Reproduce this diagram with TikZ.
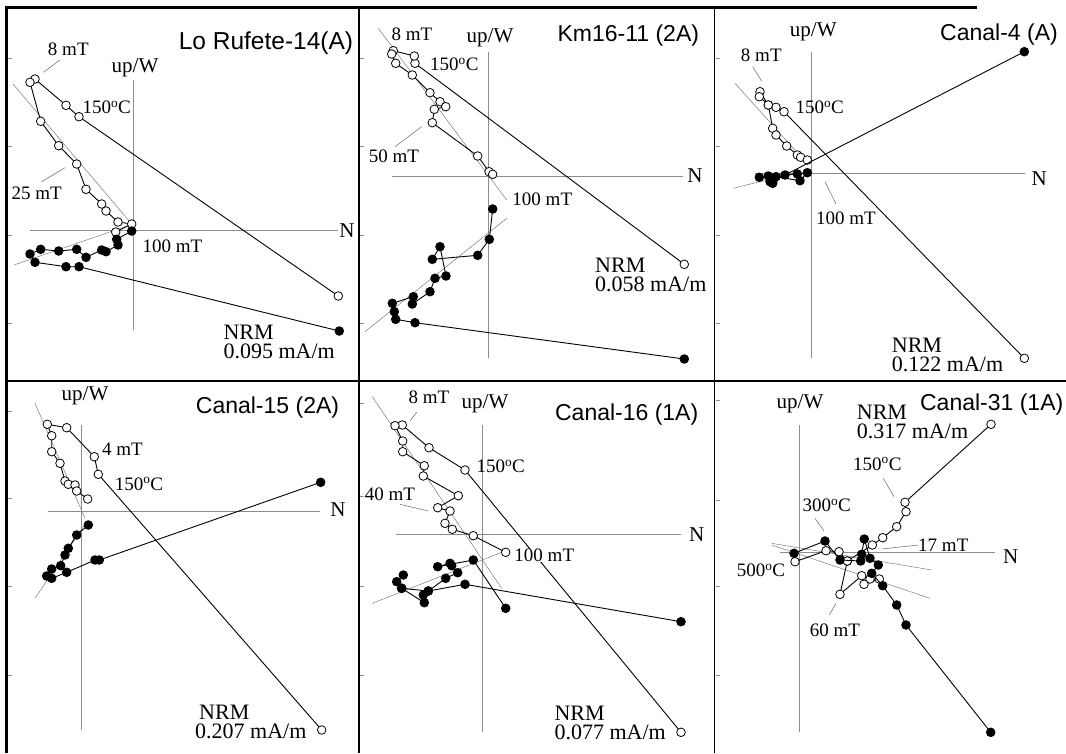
\documentclass[tikz,border=0pt]{standalone}
\usepackage{fontspec}
\setmainfont{Liberation Serif}
\newfontfamily\ttlfont{Liberation Sans}
\newcommand\myDegC{\textsuperscript{o}C}
\begin{document}
\begin{tikzpicture}[x=1pt,y=-1pt,
 dl/.style={line width=0.9pt,black,line join=round},
 opn/.style={dl,mark=*,mark size=4.3pt,mark options={fill=white,draw=black,line width=0.8pt}},
 fil/.style={dl,mark=*,mark size=4.3pt,mark options={fill=black,draw=black}},
 ax/.style={draw=black!45,line width=0.8pt},
 fitl/.style={draw=black!55,line width=0.45pt},
 ld/.style={draw=black!60,line width=0.5pt},
 tk/.style={draw=black!45,line width=0.6pt},
 ttl/.style={font=\ttlfont\fontsize{23}{26}\selectfont,anchor=base,inner sep=0pt},
 lb/.style={font=\fontsize{19}{21}\selectfont,anchor=base,inner sep=0.5pt},
 axl/.style={font=\fontsize{21}{23}\selectfont,anchor=base,inner sep=0pt},
 nrm/.style={font=\fontsize{22}{19}\selectfont,align=left,anchor=base west,inner sep=0pt},
]
\fill[white] (0,0) rectangle (1066,753);
\useasboundingbox (0,0) rectangle (1066,753);

% ---------- frame ----------
\draw[black,line width=3pt] (6.5,753) -- (6.5,7.5) -- (977,7.5);
\draw[black,line width=1.8pt] (359,7.5) -- (359,753);
\draw[black,line width=1.8pt] (714.5,7.5) -- (714.5,753);
\draw[black,line width=1.8pt] (6.5,381) -- (1066,381);

% ---------- ticks ----------
\foreach \y in {58.3,146.7,235,323.3} {
  \draw[tk] (8,\y) -- (12,\y);
  \draw[tk] (360,\y) -- (364,\y);
  \draw[tk] (716,\y) -- (720,\y);
}
\foreach \y in {411.7,498.3,586.7,675} \draw[tk] (8,\y) -- (12,\y);
\foreach \y in {403.3,496.7,586.7,675} \draw[tk] (360,\y) -- (364,\y);
\foreach \y in {400,500,586.7,675} \draw[tk] (716,\y) -- (720,\y);

% ================= Panel 1 =================
\draw[ax] (133.3,80) -- (133.3,330);
\draw[ax] (30,230) -- (338,230);
\draw[fitl] (13,84) -- (130,222);
\draw[fitl] (14,265) -- (130,225);
\draw[opn] plot coordinates {(338.3,296) (79,116.7) (66,105.3) (35,79) (30,82.3) (40.7,121.3) (58.7,145.7) (76.7,164) (86,189.3) (101.7,204) (106,211) (118,222) (131.7,224) (115.7,232)};
\draw[fil] plot coordinates {(339.3,331) (79,266.7) (66,266.7) (35,262.3) (30,254) (40.7,249.3) (58.7,251) (76.7,249.3) (86,257.3) (101.7,250) (106,251.7) (118,245) (116.7,239.3) (131.7,231)};
\node[ttl,font=\ttlfont\fontsize{24.5}{28}\selectfont] (t1) at (266,49) {Lo Rufete-14(A)};
\node[lb] (a1) at (68.3,55) {8 mT};
\draw[ld] (43.3,72.3) -- (60,60);
\node[axl] (u1) at (135,72.7) {up/W};
\node[lb] (b1) at (106.7,113.3) {150\myDegC};
\node[lb] (c1) at (36.7,199.3) {25 mT};
\draw[ld] (41.7,181.7) -- (65,167.7);
\node[lb] (d1) at (172.5,252.3) {100 mT};
\node[axl] (n1) at (347,237.3) {N};
\node[nrm] (m1) at (223.3,358) {NRM\\0.095 mA/m};

% ================= Panel 2 =================
\draw[ax] (488.3,52) -- (488.3,358);
\draw[ax] (392,176) -- (683,176);
\draw[fitl] (378.3,28.3) -- (506.7,200);
\draw[fitl] (365,331.7) -- (506.7,218.3);
\draw[opn] plot coordinates {(684.3,264.3) (415,63.3) (414.3,56) (393.3,50.7) (391.7,54) (395.7,63.3) (412.3,75) (430,92.7) (440,101.7) (445.7,106.7) (434.3,109.3) (432.3,122.7) (477.7,156) (489,171.7) (492.7,174.3)};
\draw[fil] plot coordinates {(684.3,359) (415,322.7) (395.7,319.3) (394.3,311.7) (392.3,303.3) (413.3,296.7) (412.3,304) (430,291.7) (435,278.3) (446,276) (440,246.7) (432.3,259.3) (477.7,255.3) (489.3,239.3) (492.7,209)};
\node[ttl] (t2) at (628.3,41.7) {Km16-11 (2A)};
\node[lb] (a2) at (412,40) {8 mT};
\node[axl] (u2) at (490,42.7) {up/W};
\node[lb] (b2) at (454.3,70.7) {150\myDegC};
\node[lb] (c2) at (394,162.7) {50 mT};
\draw[ld] (395,146.7) -- (421.7,126.7);
\node[lb] (d2) at (542.3,205) {100 mT};
\node[axl] (n2) at (695,182.7) {N};
\node[nrm] (m2) at (595,291.7) {NRM\\0.058 mA/m};

% ================= Panel 3 =================
\draw[ax] (811.7,52) -- (811.7,358);
\draw[ax] (755,173.3) -- (1025,173.3);
\draw[fitl] (735,83.3) -- (806.7,163.3);
\draw[fitl] (733.3,188.3) -- (790,174);
\draw[opn] plot coordinates {(1024.3,358.3) (784,111.7) (776,107.3) (768.3,105) (760,91.7) (759.3,96.7) (768.3,105) (772.7,128.3) (776,135) (786.7,146) (797.3,155) (800.7,157.3) (807.3,160)};
\draw[fil] plot coordinates {(1024.3,51.7) (785,175) (797.3,174) (807.3,172.7) (800,180.7) (776,176.7) (773.3,180) (772.7,183.3) (770,181.7) (768.3,176) (759.3,177.3)};
\node[ttl] (t3) at (999,40) {Canal-4 (A)};
\node[axl] (u3) at (813.3,36.7) {up/W};
\node[lb] (a3) at (761.3,61.7) {8 mT};
\draw[ld] (752.7,66.7) -- (761.7,81);
\node[lb] (b3) at (819.7,113.3) {150\myDegC};
\node[lb] (d3) at (846,224) {100 mT};
\draw[ld] (825,181.7) -- (836,204);
\node[axl] (n3) at (1039.3,185) {N};
\node[nrm] (m3) at (891.7,371) {NRM\\0.122 mA/m};

% ================= Panel 4 =================
\draw[ax] (81.7,425) -- (81.7,730);
\draw[ax] (48,511.7) -- (320,511.7);
\draw[fitl] (35,403.3) -- (85,518.3);
\draw[fitl] (35,598.3) -- (86.7,521.7);
\draw[opn] plot coordinates {(321.7,730) (98.3,474.3) (94.3,456.7) (66.7,427.7) (47.3,424.3) (51.7,435.7) (51.7,451.7) (60,463.3) (65,481) (68.3,484.3) (75,485) (76.7,491) (87.7,499)};
\draw[fil] plot coordinates {(320.7,482.3) (99.3,560) (95,560) (66.7,572.3) (51.7,578.3) (46.7,576) (51.7,569) (60.7,565.7) (65,555) (68.3,548.3) (76.7,535) (88.3,525)};
\node[ttl] (t4) at (267.5,413.3) {Canal-15 (2A)};
\node[axl] (u4) at (85,400) {up/W};
\node[lb] (a4) at (122.5,455) {4 mT};
\node[lb] (b4) at (139,490) {150\myDegC};
\node[axl] (n4) at (338,516.7) {N};
\node[nrm] (m4) at (195,738.3) {\hspace*{4pt}NRM\\0.207 mA/m};

% ================= Panel 5 =================
\draw[ax] (482.3,425) -- (482.3,731.7);
\draw[ax] (395.7,534.3) -- (681,534.3);
\draw[fitl] (372.3,396.7) -- (501.7,588.3);
\draw[fitl] (372.3,603.3) -- (505,551);
\draw[opn] plot coordinates {(681,732.3) (465,470) (429,447.7) (402.3,425) (395,425.7) (402.7,441) (402.7,451.7) (424.3,465.7) (423.3,476) (458.3,495.7) (437.7,507.7) (450,511) (445,523.3) (452.3,529.3) (473.3,535.7) (505.7,552.3)};
\draw[fil] plot coordinates {(681,621.7) (465,584.3) (428.3,591) (401.7,588.3) (396.7,581.7) (403.3,575)};
\draw[fil] plot coordinates {(401.7,588.3) (424.3,602.7) (423.3,595) (428.3,591) (445.7,578.3) (457.7,572.7) (451.7,565.7) (450,563.3) (437.7,566.7) (473.3,560) (505.7,608.3)};
\node[ttl] (t5) at (626.7,420) {Canal-16 (1A)};
\node[lb] (a5) at (429,403.3) {8 mT};
\draw[ld] (410,421) -- (416.7,412.3);
\node[axl] (u5) at (485,408.3) {up/W};
\node[lb] (b5) at (500.7,472.3) {150\myDegC};
\node[lb] (c5) at (390,500) {40 mT};
\draw[ld] (400,504.3) -- (428.3,511);
\node[lb,fill=white] (d5) at (544.3,561.7) {100 mT};
\node[axl] (n5) at (696.7,541.7) {N};
\node[nrm] (m5) at (554.3,739) {NRM\\0.077 mA/m};

% ================= Panel 6 =================
\draw[ax] (799.3,425) -- (799.3,731.7);
\draw[ax] (780,552.3) -- (995,552.3);
\draw[fitl] (771.7,543.3) -- (931.7,570);
\draw[fitl] (771.7,545) -- (930,598.3);
\draw[opn] plot coordinates {(991,424.3) (905,502.3) (906,511.7) (896.7,526.7) (882.7,537.7) (872.3,545) (847.3,561) (839,551.7) (826,550.7) (795,561.7)};
\draw[opn] plot coordinates {(847.3,561) (840,594.3) (861.7,575.7) (870,579) (864,584.3) (879.3,579)};
\draw[fil] plot coordinates {(990.7,732.3) (906,625) (896.7,605) (882.7,585.7) (871.7,573.3) (878.3,565) (870,558.3) (864.3,539) (861.7,554.3) (860.7,561) (840,560) (825,541) (794,553.3)};
\node[ttl] (t6) at (991.7,410) {Canal-31 (1A)};
\node[axl] (u6) at (800,408.3) {up/W};
\node[nrm] (m6) at (856.7,438.3) {NRM\\0.317 mA/m};
\node[lb] (b6) at (877.3,470) {150\myDegC};
\draw[ld] (883.3,478.3) -- (894,496.7);
\node[lb] (c6) at (826.7,511.7) {300\myDegC};
\draw[ld] (815,518.3) -- (824,531);
\node[lb] (e6) at (761,576.7) {500\myDegC};
\node[lb] (f6) at (943.3,551) {17 mT};
\draw[ld] (881.7,549) -- (918.3,545);
\node[lb] (g6) at (835,636.7) {60 mT};
\draw[ld] (829.3,615) -- (836,603.3);
\node[axl] (n6) at (1010.7,563.3) {N};
\end{tikzpicture}
\end{document}
